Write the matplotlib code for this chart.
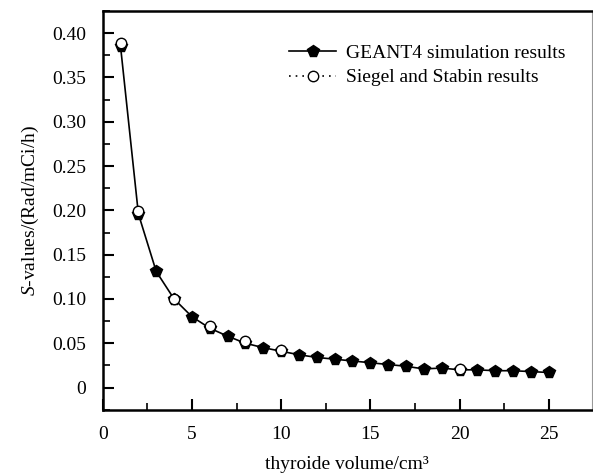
import matplotlib
matplotlib.use('Agg')
import matplotlib.pyplot as plt
from matplotlib.lines import Line2D
from matplotlib.ticker import MultipleLocator, FuncFormatter

# thyroid volume (cm^3)
volume = list(range(1, 26))
# GEANT4 S-values
geant4 = [0.385, 0.196, 0.131, 0.100, 0.080, 0.067, 0.058, 0.050, 0.045, 0.041,
          0.037, 0.034, 0.032, 0.030, 0.028, 0.026, 0.024, 0.021, 0.022, 0.020,
          0.020, 0.019, 0.019, 0.018, 0.017]
# Siegel and Stabin reference values
siegel_vol = [1, 2, 4, 6, 8, 10, 20]
siegel = [0.389, 0.199, 0.100, 0.069, 0.052, 0.042, 0.021]

plt.rcParams['font.family'] = ['Liberation Serif', 'DejaVu Serif']
plt.rcParams['mathtext.fontset'] = 'custom'
plt.rcParams['mathtext.rm'] = 'Liberation Serif'
plt.rcParams['mathtext.it'] = 'Liberation Serif:italic'

fig = plt.figure(figsize=(5.93, 4.75), dpi=100)
ax = fig.add_axes([0.1732, 0.1375, 0.8243, 0.8393])

ax.plot(volume, geant4, '-', color='black', lw=1.2, marker='p', ms=8.5,
        mfc='black', mec='black')
ax.plot(siegel_vol, siegel, linestyle='none', marker='o', ms=7.5,
        mfc='white', mec='black', mew=1.0)

ax.set_xlim(0, 27.4)
ax.set_ylim(-0.025, 0.425)
ax.xaxis.set_major_locator(MultipleLocator(5))
ax.xaxis.set_minor_locator(MultipleLocator(2.5))
ax.yaxis.set_major_locator(MultipleLocator(0.05))
ax.yaxis.set_minor_locator(MultipleLocator(0.025))
ax.yaxis.set_major_formatter(FuncFormatter(lambda v, p: '0' if abs(v) < 1e-9 else '%.2f' % v))

ax.tick_params(which='major', direction='in', length=8, width=1.5, labelsize=14,
               top=False, right=False)
ax.tick_params(axis='y', which='major', pad=12)
ax.tick_params(axis='x', which='major', pad=12)
ax.tick_params(which='minor', direction='in', length=5, width=1.2, top=False, right=False)

for s in ['left', 'bottom', 'top']:
    ax.spines[s].set_linewidth(1.8)
ax.spines['right'].set_linewidth(0.8)
ax.spines['right'].set_color('#999999')

ax.set_xlabel('thyroide volume/cm³', fontsize=14, labelpad=9)
ax.set_ylabel('$S$-values/(Rad/mCi/h)', fontsize=14, labelpad=8)

handles = [
    Line2D([], [], color='black', lw=1.2, marker='p', ms=8.5, mfc='black'),
    Line2D([], [], color='black', lw=1.2, linestyle=(0, (1, 3)), marker='o',
           ms=7.5, mfc='white', mew=1.0),
]
labels = ['GEANT4 simulation results', 'Siegel and Stabin results']
ax.legend(handles, labels, loc='upper right', bbox_to_anchor=(0.982, 0.96),
          frameon=False, fontsize=14, handlelength=2.4, handletextpad=0.5,
          labelspacing=0.35)

plt.savefig('out.png', dpi=100)
